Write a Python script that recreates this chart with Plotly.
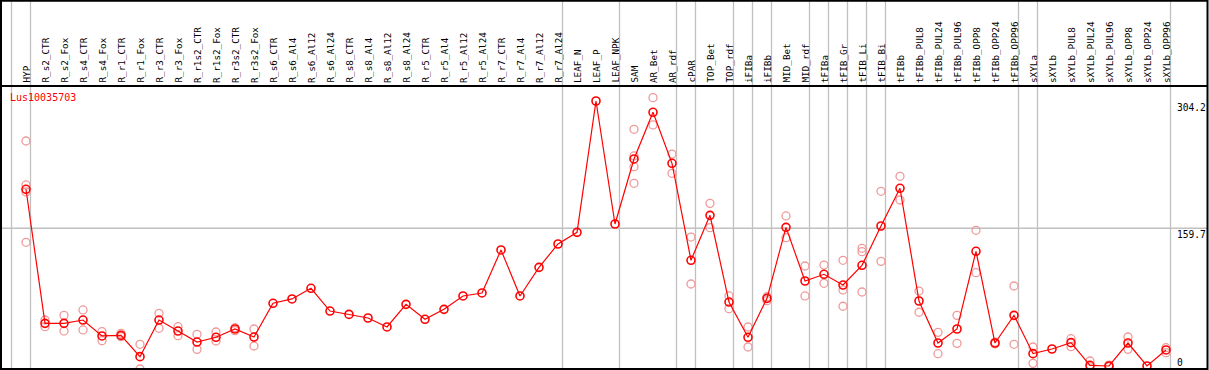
import plotly.graph_objects as go

categories = ["HYP", "R_s2_CTR", "R_s2_Fox", "R_s4_CTR", "R_s4_Fox", "R_r1_CTR", "R_r1_Fox",
              "R_r3_CTR", "R_r3_Fox", "R_r1s2_CTR", "R_r1s2_Fox", "R_r3s2_CTR", "R_r3s2_Fox",
              "R_s6_CTR", "R_s6_Al4", "R_s6_Al12", "R_s6_Al24", "R_s8_CTR", "R_s8_Al4",
              "R_s8_Al12", "R_s8_Al24", "R_r5_CTR", "R_r5_Al4", "R_r5_Al12", "R_r5_Al24",
              "R_r7_CTR", "R_r7_Al4", "R_r7_Al12", "R_r7_Al24", "LEAF_N", "LEAF_P", "LEAF_NPK",
              "SAM", "AR_Bet", "AR_rdf", "cPAR", "TOP_Bet", "TOP_rdf", "iFIBa", "iFIBb",
              "MID_Bet", "MID_rdf", "tFIBa", "tFIB_Gr", "tFIB_Li", "tFIB_Bi", "tFIBb",
              "tFIBb_PUL8", "tFIBb_PUL24", "tFIBb_PUL96", "tFIBb_OPP8", "tFIBb_OPP24",
              "tFIBb_OPP96", "sXYLa", "sXYLb", "sXYLb_PUL8", "sXYLb_PUL24", "sXYLb_PUL96",
              "sXYLb_OPP8", "sXYLb_OPP24", "sXYLb_OPP96"]

means = [204.0, 51.8, 51.8, 55.6, 37.5, 38.2, 14.0, 55.6, 43.1, 30.6, 36.0, 45.4, 36.3,
         74.6, 79.5, 91.6, 65.8, 62.0, 57.9, 47.7, 73.4, 56.4, 67.7, 82.9, 86.3,
         135.1, 82.9, 115.4, 141.9, 155.1, 304.2, 164.6,
         238.4, 291.4, 233.5, 123.4, 174.4, 76.0, 36.0, 80.2,
         160.8, 99.9, 107.5, 95.3, 117.7, 162.3, 205.1,
         77.2, 29.5, 45.4, 133.6, 29.5, 60.9, 17.4, 22.7, 29.9, 4.2, 3.4,
         29.5, 3.4, 21.6]

N = None
rep_1 = [258.8, 55.6, 60.9, 67.0, 42.4, 40.5, 28.0, 63.2, 48.0, 39.4, 42.0, 46.9, 45.4,
         N, N, N, N, N, N, N, N, N, N, N, N, N, N, N, N, N, N, N,
         272.1, 308.0, 244.0, 149.8, 188.0, 82.9, 47.7, 82.1,
         173.7, 116.9, 118.0, 123.4, 137.0, 201.7, 218.7,
         88.5, 41.6, 60.9, 157.4, 30.5, 94.2, 25.0, N, 34.4, 9.1, 4.5,
         36.3, N, 24.2]
rep_2 = [208.9, 48.0, 43.1, 44.3, 32.2, 36.7, 0.0, 46.2, 37.8, 22.3, 31.8, 43.5, 26.1,
         N, N, N, N, N, N, N, N, N, N, N, N, N, N, N, N, N, N, N,
         241.8, 277.0, 222.1, 96.5, 160.4, 68.5, 25.0, 77.6,
         149.1, 82.9, 97.3, 89.7, 133.2, 122.2, 191.8,
         64.4, 17.4, 29.1, 109.3, 28.5, 28.0, 6.4, N, 25.3, 2.6, 2.5,
         22.3, N, 18.5]
rep_3 = [201.0] + [N] * 31 + [229.6] + [N] * 10 + [71.2, 87.4] + [N] * 16
rep_4 = [143.8] + [N] * 31 + [210.8] + [N] * 28

group_ends = [-1, 0, 28, 31, 34, 35, 37, 38, 39, 41, 42, 43, 44, 45, 52, 53, 60]

W, H = 1209, 370
X0PX, DXPX = 26.0, 19.0           # pixel of first category, pixel step
YBOT, YHDR = 369.0, 86.0          # plot bottom and header line (px)
KPX = 268.0 / 304.2               # px per unit

def px_x(p):
    return p / W

def px_y(p):
    return 1 - p / H

xr = [-X0PX / DXPX, (W - X0PX) / DXPX]
yr = [0, (YBOT - YHDR) / KPX]

idx = list(range(len(categories)))

rx, ry = [], []
for reps in (rep_1, rep_2, rep_3, rep_4):
    for i, v in enumerate(reps):
        if v is not None:
            rx.append(i)
            ry.append(v)

fig = go.Figure()
fig.add_trace(go.Scatter(
    x=rx, y=ry, mode="markers",
    marker=dict(symbol="circle-open", size=8, color="#ef9a9a", line=dict(width=1.3, color="#ef9a9a")),
    hoverinfo="skip", showlegend=False))
fig.add_trace(go.Scatter(
    x=idx, y=means, mode="lines+markers",
    line=dict(color="#ff0000", width=1.2),
    marker=dict(symbol="circle-open", size=8, color="#ff0000", line=dict(width=1.6, color="#ff0000")),
    showlegend=False))

shapes = []
for g in group_ends:
    xv = g + 0.237
    shapes.append(dict(type="line", xref="x", yref="paper", x0=xv, x1=xv,
                       y0=px_y(YBOT), y1=1, line=dict(color="#c0c0c0", width=1.3), layer="below"))
shapes.append(dict(type="line", xref="paper", yref="y", x0=px_x(1), x1=px_x(1207),
                   y0=159.7, y1=159.7, line=dict(color="#c0c0c0", width=1.5), layer="below"))
shapes.append(dict(type="rect", xref="paper", yref="paper", x0=px_x(1), x1=px_x(1207.5),
                   y0=px_y(YBOT), y1=px_y(0.7), line=dict(color="black", width=2)))
shapes.append(dict(type="line", xref="paper", yref="paper", x0=px_x(1), x1=px_x(1207.5),
                   y0=px_y(YHDR), y1=px_y(YHDR), line=dict(color="black", width=2)))

mono = "DejaVu Sans Mono"
annotations = []
for i, c in enumerate(categories):
    annotations.append(dict(x=i, xref="x", y=px_y(84), yref="paper", text=c, textangle=-90,
                            showarrow=False, xanchor="center", yanchor="bottom",
                            font=dict(family=mono, size=9.3, color="black"), borderpad=0))
annotations.append(dict(x=px_x(8), xref="paper", y=px_y(97), yref="paper", text="Lus10035703",
                        showarrow=False, xanchor="left", yanchor="middle",
                        font=dict(family=mono, size=10, color="#ff0000")))
for val, anc in ((304.2, "top"), (159.7, "top"), (0, "bottom")):
    annotations.append(dict(x=px_x(1176), xref="paper", y=val, yref="y", text=f"{val:g}",
                            showarrow=False, xanchor="left", yanchor=anc, borderpad=0,
                            font=dict(family=mono, size=9.6, color="black")))

fig.update_layout(
    width=W, height=H, autosize=False,
    margin=dict(l=0, r=0, t=0, b=0, pad=0),
    paper_bgcolor="white", plot_bgcolor="white",
    xaxis=dict(range=xr, domain=[0, 1], showgrid=False, zeroline=False, showticklabels=False,
               ticks="", fixedrange=True),
    yaxis=dict(range=yr, domain=[px_y(YBOT), px_y(YHDR)], showgrid=False, zeroline=False,
               showticklabels=False, ticks="", fixedrange=True),
    shapes=shapes, annotations=annotations, showlegend=False,
)

fig.write_html("out.html", config={"displayModeBar": False},
               post_script="document.body.style.margin='0';document.body.style.overflow='hidden';")
